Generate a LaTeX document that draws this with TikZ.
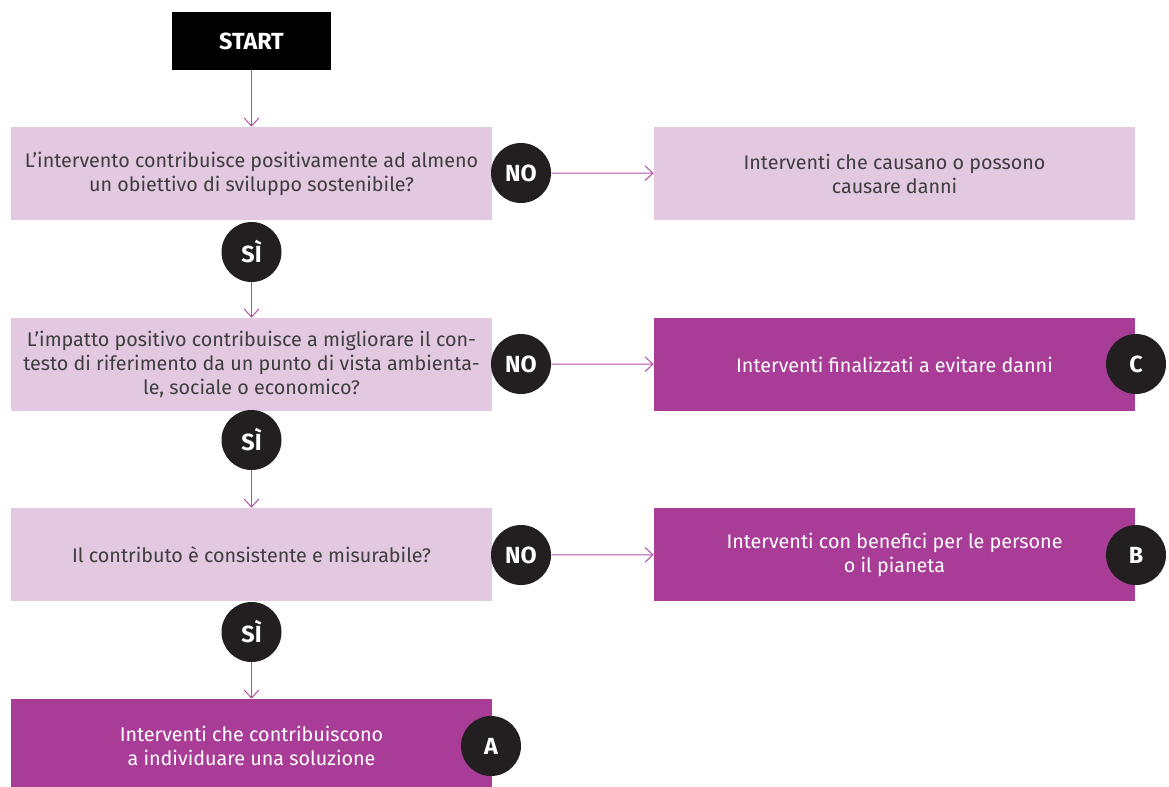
\documentclass[tikz,border=0pt]{standalone}
\usepackage{fontspec}
\setmainfont{Fira Sans}
\usetikzlibrary{arrows.meta, positioning}
\definecolor{lightpink}{RGB}{226,200,224}
\definecolor{darkmagenta}{RGB}{168,60,150}
\definecolor{arrowpink}{RGB}{176,78,164}
\definecolor{circleblack}{RGB}{35,31,32}
\definecolor{textgray}{RGB}{62,62,62}

\begin{document}
\begin{tikzpicture}[
    x=0.75pt, y=-0.75pt,
    question/.style={rectangle, fill=lightpink, minimum width=360.75pt, minimum height=69.75pt, inner sep=0pt, align=center, text=textgray, font=\fontsize{14.8}{18}\selectfont},
    outcome/.style={question},
    solution/.style={question, fill=darkmagenta, text=white},
    startbox/.style={rectangle, fill=black, minimum width=119.25pt, minimum height=43.5pt, inner sep=0pt, text=white, font=\fontsize{17.5}{18}\selectfont\bfseries},
    badge/.style={circle, fill=circleblack, minimum size=45pt, inner sep=0pt, text=white, font=\fontsize{17.5}{18}\selectfont\bfseries},
    arr/.style={-{Straight Barb[length=6pt, width=11pt]}, draw=arrowpink, line width=0.75pt},
]
\useasboundingbox (0,0) rectangle (1169,786);

% left column
\node[startbox] (start) at (251.5,41) {START};
\node[question] (q1) at (251.5,173.5) {L’intervento contribuisce positivamente ad almeno\\un obiettivo di sviluppo sostenibile?};
\node[question] (q2) at (251.5,364.5) {L’impatto positivo contribuisce a migliorare il con-\\testo di riferimento da un punto di vista ambienta-\\le, sociale o economico?};
\node[question] (q3) at (251.5,554.5) {Il contributo è consistente e misurabile?};
\node[solution] (solA) at (251.5,745.5) {Interventi che contribuiscono\\a individuare una soluzione};

% right column
\node[outcome] (r1) at (894.5,173.5) {Interventi che causano o possono\\causare danni};
\node[solution] (solC) at (894.5,364.5) {Interventi finalizzati a evitare danni};
\node[solution] (solB) at (894.5,554.5) {Interventi con benefici per le persone\\o il pianeta};

% badges
\node[badge] (no1) at (521,173) {NO};
\node[badge] (no2) at (521,364) {NO};
\node[badge] (no3) at (521,555) {NO};
\node[badge] (si1) at (251.5,252) {SÌ};
\node[badge] (si2) at (251.5,440) {SÌ};
\node[badge] (si3) at (251.5,632) {SÌ};
\node[badge] (labC) at (1136,364) {C};
\node[badge] (labB) at (1136,555) {B};
\node[badge] (labA) at (491,746) {A};

\draw[arr] (start) -- (q1);
\draw[arr] (si1) -- (q2);
\draw[arr] (si2) -- (q3);
\draw[arr] (si3) -- (solA);
\draw[arr] (no1) -- (r1);
\draw[arr] (no2) -- (solC);
\draw[arr] (no3) -- (solB);
\end{tikzpicture}
\end{document}
